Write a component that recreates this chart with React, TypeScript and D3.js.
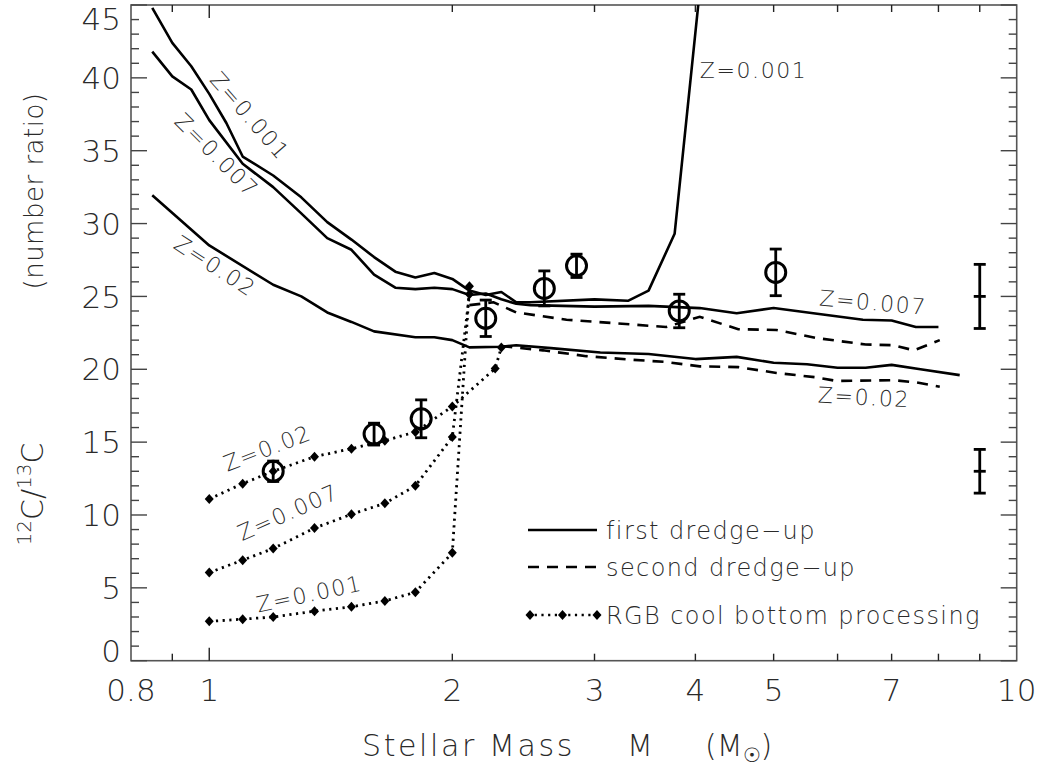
import * as d3 from "d3";

const W = 1042;
const H = 767;
const PLOT = { left: 131, right: 1016.7, top: 5, bottom: 660.7 };

// axis ticks
const X_LABELS = [0.8, 1, 2, 3, 4, 5, 7, 10];
const X_MINOR = [0.9, 2, 3, 4, 5, 6, 7, 8, 9];
const X_MAJOR = [1];
const Y_LABELS = [0, 5, 10, 15, 20, 25, 30, 35, 40, 45];
const Y_MINOR = d3.range(0, 46, 1);

// first dredge-up (solid)
const FDU_Z001_M = [0.85, 0.9, 0.95, 1.0, 1.05, 1.1, 1.2, 1.3, 1.4, 1.5, 1.6, 1.7, 1.8, 1.9, 2.0, 2.1, 2.2, 2.3, 2.4, 2.5, 3.0, 3.3, 3.5, 3.77, 4.05];
const FDU_Z001_V = [44.8, 42.4, 40.8, 38.9, 36.9, 34.6, 33.3, 31.8, 30.1, 28.9, 27.7, 26.7, 26.3, 26.6, 26.2, 25.4, 25.1, 25.3, 24.6, 24.6, 24.8, 24.7, 25.4, 29.3, 46];

const FDU_Z007_M = [0.85, 0.9, 0.95, 1.0, 1.1, 1.2, 1.3, 1.4, 1.5, 1.6, 1.7, 1.8, 1.9, 2.0, 2.1, 2.2, 2.3, 2.4, 2.5, 3.0, 3.5, 4.05, 4.5, 5.0, 5.6, 6.45, 7.0, 7.5, 8.0];
const FDU_Z007_V = [41.8, 40.1, 39.2, 37.1, 34.1, 32.5, 30.7, 29.0, 28.2, 26.5, 25.6, 25.5, 25.6, 25.5, 25.1, 25.2, 24.8, 24.5, 24.4, 24.3, 24.35, 24.2, 23.85, 24.2, 23.85, 23.4, 23.35, 22.9, 22.9];

const FDU_Z02_M = [0.85, 1.0, 1.2, 1.3, 1.4, 1.5, 1.6, 1.8, 1.9, 2.0, 2.1, 2.3, 2.4, 2.65, 3.05, 3.5, 4.0, 4.5, 5.0, 5.5, 6.0, 6.5, 7.0, 7.6, 8.5];
const FDU_Z02_V = [31.95, 28.5, 25.8, 25.0, 23.9, 23.25, 22.6, 22.2, 22.2, 22.0, 21.5, 21.55, 21.65, 21.45, 21.15, 21.05, 20.7, 20.85, 20.45, 20.35, 20.1, 20.1, 20.3, 20.0, 19.6];

// second dredge-up (dashed)
const SDU_Z007_M = [2.1, 2.25, 2.4, 2.77, 3.2, 3.68, 4.05, 4.52, 5.04, 5.64, 6.5, 7.04, 7.46, 8.03];
const SDU_Z007_V = [24.4, 24.6, 23.9, 23.4, 23.15, 22.9, 23.6, 22.75, 22.7, 22.15, 21.7, 21.65, 21.3, 22.0];

const SDU_Z02_M = [2.3, 2.59, 2.93, 3.35, 3.68, 4.05, 4.52, 5.04, 5.64, 5.98, 7.04, 7.52, 8.03];
const SDU_Z02_V = [21.6, 21.3, 20.9, 20.65, 20.5, 20.2, 20.15, 19.75, 19.45, 19.2, 19.25, 19.1, 18.8];

// RGB cool bottom processing (dotted + diamonds)
const CBP_Z02_M = [1.0, 1.1, 1.2, 1.35, 1.5, 1.65, 1.8, 2.0, 2.26, 2.3];
const CBP_Z02_V = [11.1, 12.15, 13.0, 14.0, 14.55, 15.1, 15.7, 17.45, 20.05, 21.5];

const CBP_Z007_M = [1.0, 1.1, 1.2, 1.35, 1.5, 1.65, 1.8, 2.0, 2.1];
const CBP_Z007_V = [6.05, 6.9, 7.7, 9.1, 10.05, 10.8, 12.0, 15.35, 25.15];

const CBP_Z001_M = [1.0, 1.1, 1.2, 1.35, 1.5, 1.65, 1.8, 2.0, 2.1];
const CBP_Z001_V = [2.7, 2.85, 3.0, 3.4, 3.7, 4.1, 4.7, 7.4, 25.7];

// observed stars
const OBS_M = [1.2, 1.6, 1.83, 2.2, 2.6, 2.85, 3.82, 5.03];
const OBS_V = [13.0, 15.55, 16.6, 23.5, 25.55, 27.1, 24.0, 26.65];
const OBS_ERR = [0.7, 0.75, 1.3, 1.25, 1.2, 0.8, 1.15, 1.6];

// typical error bars at the right
const REP_M = [9.0, 9.0];
const REP_V = [25.0, 13.0];
const REP_ERR = [2.2, 1.5];

const CURVE_LABELS = [
  { text: "Z=0.001", m: 1.123, v: 37.4, rot: 49, anchor: "middle" },
  { text: "Z=0.007", m: 1.022, v: 34.7, rot: 45, anchor: "middle" },
  { text: "Z=0.02", m: 1.017, v: 27.1, rot: 33, anchor: "middle" },
  { text: "Z=0.001", m: 4.05, v: 40.0, rot: 0, anchor: "start", base: true },
  { text: "Z=0.007", m: 6.64, v: 24.6, rot: 5, anchor: "middle" },
  { text: "Z=0.02", m: 6.47, v: 18.1, rot: 3, anchor: "middle" },
  { text: "Z=0.02", m: 1.18, v: 14.6, rot: -21, anchor: "middle" },
  { text: "Z=0.007", m: 1.252, v: 10.2, rot: -24, anchor: "middle" },
  { text: "Z=0.001", m: 1.33, v: 4.6, rot: -12, anchor: "middle" },
];

const FONT = "'DejaVu Sans', sans-serif";
const TXT = "#2a2a2a";
const DIAMOND = "M0,-5L4.5,0L0,5L-4.5,0Z";

const zip = (m: number[], v: number[]) => m.map((d, i) => [d, v[i]] as [number, number]);

export default function App() {
  const x = d3.scaleLog().domain([0.8, 10]).range([PLOT.left, PLOT.right]);
  const y = d3.scaleLinear().domain([0, 45]).range([PLOT.bottom, PLOT.top]);
  const line = d3
    .line<[number, number]>()
    .x((d) => x(d[0]))
    .y((d) => y(d[1]));

  const solid = [zip(FDU_Z001_M, FDU_Z001_V), zip(FDU_Z007_M, FDU_Z007_V), zip(FDU_Z02_M, FDU_Z02_V)];
  const dashed = [zip(SDU_Z007_M, SDU_Z007_V), zip(SDU_Z02_M, SDU_Z02_V)];
  const dotted = [zip(CBP_Z02_M, CBP_Z02_V), zip(CBP_Z007_M, CBP_Z007_V), zip(CBP_Z001_M, CBP_Z001_V)];

  const errBar = (m: number, v: number, e: number, key: string, cap = 6) => {
    const cx = x(m);
    return (
      <g key={key} stroke="#000" strokeWidth={2.8} fill="none">
        <line x1={cx} x2={cx} y1={y(v - e)} y2={y(v + e)} />
        <line x1={cx - cap} x2={cx + cap} y1={y(v - e)} y2={y(v - e)} />
        <line x1={cx - cap} x2={cx + cap} y1={y(v + e)} y2={y(v + e)} />
      </g>
    );
  };

  const legendX0 = 528;
  const legendX1 = 597;
  const legendTx = 606;

  return (
    <div style={{ position: "absolute", left: 0, top: 0 }}>
      <svg width={W} height={H} viewBox={`0 0 ${W} ${H}`} style={{ display: "block", background: "#fff" }}>
        <defs>
          <clipPath id="plotclip">
            <rect x={PLOT.left} y={PLOT.top} width={PLOT.right - PLOT.left} height={PLOT.bottom - PLOT.top} />
          </clipPath>
        </defs>

        {/* frame */}
        <rect
          x={PLOT.left}
          y={PLOT.top}
          width={PLOT.right - PLOT.left}
          height={PLOT.bottom - PLOT.top}
          fill="none"
          stroke="#555"
          strokeWidth={1.6}
        />

        {/* x ticks, bottom and top */}
        <g stroke="#222" strokeWidth={1.4}>
          {X_MINOR.map((t) => (
            <g key={`xm-${t}`}>
              <line x1={x(t)} x2={x(t)} y1={PLOT.bottom} y2={PLOT.bottom - 7} />
              <line x1={x(t)} x2={x(t)} y1={PLOT.top} y2={PLOT.top + 7} />
            </g>
          ))}
          {X_MAJOR.map((t) => (
            <g key={`xM-${t}`}>
              <line x1={x(t)} x2={x(t)} y1={PLOT.bottom} y2={PLOT.bottom - 13} />
              <line x1={x(t)} x2={x(t)} y1={PLOT.top} y2={PLOT.top + 13} />
            </g>
          ))}
        </g>

        {/* y ticks, left and right */}
        <g stroke="#444" strokeWidth={1.4}>
          {Y_MINOR.map((t) => {
            const len = t % 5 === 0 ? 16 : 8;
            return (
              <g key={`y-${t}`}>
                <line x1={PLOT.left} x2={PLOT.left + len} y1={y(t)} y2={y(t)} />
                <line x1={PLOT.right} x2={PLOT.right - len} y1={y(t)} y2={y(t)} />
              </g>
            );
          })}
        </g>

        {/* tick labels */}
        <g fontFamily={FONT} fontWeight={200} fontSize={31} fill={TXT}>
          {X_LABELS.map((t) => (
            <text key={`xl-${t}`} x={x(t)} y={701} textAnchor="middle">
              {t}
            </text>
          ))}
          {Y_LABELS.map((t) => {
            let yy = y(t);
            if (t === 0) yy -= 10;
            if (t === 45) yy += 14;
            return (
              <text key={`yl-${t}`} x={121} y={yy} dy="0.36em" textAnchor="end">
                {t}
              </text>
            );
          })}
        </g>

        {/* axis titles */}
        <g fontFamily={FONT} fontWeight={200} fontSize={30} fill={TXT}>
          <text x={362} y={756} letterSpacing={2.6}>Stellar Mass</text>
          <text x={627} y={756}>M</text>
          <text x={705} y={756}>
            (M<tspan fontSize={20} dy={6}>☉</tspan>
            <tspan dy={-6}>)</tspan>
          </text>
          <text transform="translate(43,494) rotate(-90)" textAnchor="middle">
            <tspan fontSize={20} dy={-12}>12</tspan>
            <tspan dy={12}>C/</tspan>
            <tspan fontSize={20} dy={-12}>13</tspan>
            <tspan dy={12}>C</tspan>
          </text>
          <text transform="translate(43,191) rotate(-90)" textAnchor="middle" fontSize={26} letterSpacing={0.5}>
            (number ratio)
          </text>
        </g>

        <g clipPath="url(#plotclip)" fill="none" stroke="#000">
          {solid.map((d, i) => (
            <path key={`s-${i}`} d={line(d)!} strokeWidth={2.6} strokeLinejoin="round" />
          ))}
          {dashed.map((d, i) => (
            <path key={`d-${i}`} d={line(d)!} strokeWidth={2.6} strokeDasharray="11 8" />
          ))}
          {dotted.map((d, i) => (
            <path key={`o-${i}`} d={line(d)!} strokeWidth={2.8} strokeDasharray="2.2 4.5" />
          ))}
        </g>

        {/* diamonds */}
        <g fill="#000">
          {dotted.flat().map((d, i) => (
            <path key={`dm-${i}`} d={DIAMOND} transform={`translate(${x(d[0])},${y(d[1])})`} />
          ))}
        </g>

        {/* observed stars */}
        {OBS_M.map((m, i) => errBar(m, OBS_V[i], OBS_ERR[i], `ob-${i}`))}
        <g fill="#fff" stroke="#000" strokeWidth={3}>
          {OBS_M.map((m, i) => (
            <circle key={`c-${i}`} cx={x(m)} cy={y(OBS_V[i])} r={10} fill="none" />
          ))}
        </g>
        {REP_M.map((m, i) => errBar(m, REP_V[i], REP_ERR[i], `rep-${i}`))}
        {REP_M.map((m, i) => (
          <line key={`rc-${i}`} x1={x(m) - 6} x2={x(m) + 6} y1={y(REP_V[i])} y2={y(REP_V[i])} stroke="#000" strokeWidth={2.8} />
        ))}

        {/* curve labels */}
        <g fontFamily={FONT} fontWeight={200} fontSize={22} fill={TXT} letterSpacing={1.6}>
          {CURVE_LABELS.map((l, i) => (
            <text
              key={`cl-${i}`}
              transform={`translate(${x(l.m)},${y(l.v)}) rotate(${l.rot})`}
              textAnchor={l.anchor}
              dy={l.base ? 0 : "0.36em"}
            >
              {l.text}
            </text>
          ))}
        </g>

        {/* legend */}
        <g stroke="#000" strokeWidth={2.6} fill="none">
          <line x1={legendX0} x2={legendX1} y1={530} y2={530} />
          <line x1={legendX0} x2={legendX1} y1={567} y2={567} strokeDasharray="11 8" />
          <line x1={legendX0} x2={legendX1} y1={615} y2={615} strokeDasharray="2.2 4.5" />
        </g>
        <g fill="#000">
          {[legendX0 + 2, (legendX0 + legendX1) / 2, legendX1].map((lx, i) => (
            <path key={`lg-${i}`} d={DIAMOND} transform={`translate(${lx},615)`} />
          ))}
        </g>
        <g fontFamily={FONT} fontWeight={200} fontSize={24} fill={TXT} letterSpacing={1.4}>
          <text x={legendTx} y={530} dy="0.36em">first dredge−up</text>
          <text x={legendTx} y={567} dy="0.36em">second dredge−up</text>
          <text x={legendTx} y={615} dy="0.36em">RGB cool bottom processing</text>
        </g>
      </svg>
    </div>
  );
}
